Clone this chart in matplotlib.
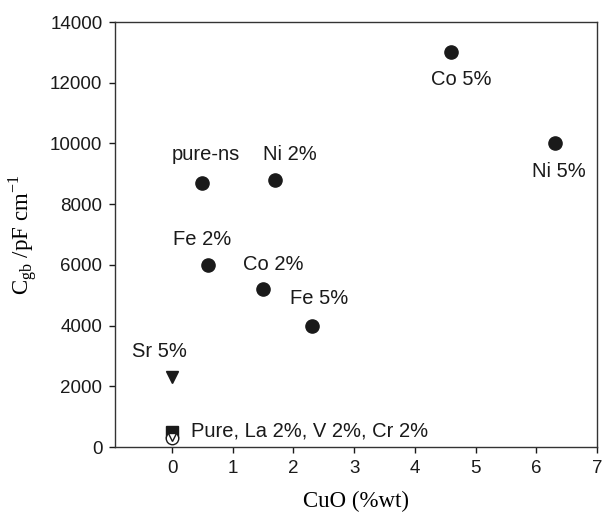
import matplotlib
matplotlib.use("Agg")
import matplotlib.pyplot as plt

# Data
labels = ["pure-ns", "Ni 2%", "Co 5%", "Ni 5%", "Fe 2%", "Co 2%", "Fe 5%"]
cuo = [0.5, 1.7, 4.6, 6.3, 0.6, 1.5, 2.3]
cgb = [8700, 8800, 13000, 10000, 6000, 5200, 4000]

sr_x = [0.0]
sr_y = [2300]

pure_sq_x = [0.0]
pure_sq_y = [500]
pure_open_x = [0.0, 0.0]
pure_open_y = [300, 320]

xticks = [0, 1, 2, 3, 4, 5, 6, 7]
yticks = [0, 2000, 4000, 6000, 8000, 10000, 12000, 14000]

label_pos = {
    "pure-ns": (0.55, 9620),
    "Ni 2%": (1.94, 9620),
    "Co 5%": (4.77, 12100),
    "Ni 5%": (6.37, 9060),
    "Fe 2%": (0.50, 6820),
    "Co 2%": (1.66, 6000),
    "Fe 5%": (2.43, 4880),
}

fig = plt.figure(figsize=(6.05, 5.18), dpi=100)
ax = fig.add_axes([0.190, 0.137, 0.797, 0.8205])

sans = "Liberation Sans"
serif = "Liberation Serif"
ink = "#1a1a1a"

ax.plot(cuo, cgb, "o", color=ink, ms=9.5, ls="none")
ax.plot(sr_x, sr_y, "v", color=ink, ms=9, ls="none")
ax.plot(pure_sq_x, pure_sq_y, "s", color=ink, ms=8, ls="none")
ax.plot(pure_open_x[:1], pure_open_y[:1], "o", mfc="white", mec=ink, ms=9, ls="none")
ax.plot(pure_open_x[1:], pure_open_y[1:], "v", mfc="white", mec=ink, ms=6, ls="none")

fs = 14.5
for lab in labels:
    x, y = label_pos[lab]
    ax.text(x, y, lab, ha="center", va="center", fontsize=fs, family=sans, color=ink)
ax.text(-0.2, 3160, "Sr 5%", ha="center", va="center", fontsize=fs, family=sans, color=ink)
ax.text(0.31, 530, "Pure, La 2%, V 2%, Cr 2%", ha="left", va="center", fontsize=fs, family=sans, color=ink)

ax.set_xlim(-0.94, 7)
ax.set_ylim(0, 14000)
ax.set_xticks(xticks)
ax.set_yticks(yticks)
ax.set_xticklabels([str(t) for t in xticks], family=sans, fontsize=13.5)
ax.set_yticklabels([str(t) for t in yticks], family=sans, fontsize=13.5)
ax.tick_params(direction="out", length=4, width=1, colors=ink, pad=5)

for s in ax.spines.values():
    s.set_linewidth(1.0)
    s.set_color("#333333")

ax.set_xlabel("CuO (%wt)", family=serif, fontsize=16.5, labelpad=10)
ax.set_ylabel(r"C$_{\mathregular{gb}}$ /pF cm$^{\mathregular{-1}}$", family=serif, fontsize=16.5, labelpad=8)

fig.savefig("out.png", dpi=100)
